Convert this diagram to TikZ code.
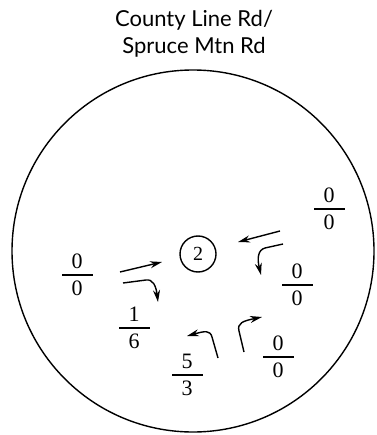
\documentclass[tikz,border=0pt]{standalone}
\usepackage{fontspec}
\setmainfont{Liberation Serif}
\newfontfamily\titlefont{Lato}
\usetikzlibrary{arrows.meta}

\tikzset{
  flowbar/.style={fill=black,draw=none,minimum width=31pt,minimum height=1.3pt,inner sep=0pt},
  every label/.style={inner sep=1pt,font=\fontsize{22}{22}\selectfont},
  movearrow/.style={->,line width=1.4pt},
}

\begin{document}
\begin{tikzpicture}[x=1pt,y=-1pt,line width=1.4pt,>={Stealth[length=12pt,width=7pt]},label distance=3pt]
\useasboundingbox (0,0) rectangle (376,435);
% ---- title and intersection circle ----
\node[align=center,font=\titlefont\fontsize{22}{27}\selectfont] (title) at (194,34)
  {County Line Rd/\\Spruce Mtn Rd};
\draw (193,251) circle (181);
\node[draw,circle,minimum size=36pt,inner sep=0pt,font=\fontsize{20}{20}\selectfont] (site) at (198,254) {2};
% ---- turning volumes ----
\node[flowbar,label={above:0},label={below:0}] (eastthru) at (329,209) {};
\node[flowbar,label={above:0},label={below:0}] (westthru) at (77,275) {};
\node[flowbar,label={above:1},label={below:6}] (westright) at (134,328) {};
\node[flowbar,label={above:0},label={below:0}] (eastleft) at (297,285) {};
\node[flowbar,label={above:5},label={below:3}] (southleft) at (187,375) {};
\node[flowbar,label={above:0},label={below:0}] (southright) at (278,357) {};
% ---- movement arrows ----
\draw[movearrow] (120,272) -- (162,262);
\draw[movearrow] (123,283) -- (146,280) .. controls (153,279) and (156,286) .. (158,302);
\draw[movearrow] (280,231) -- (238,242);
\draw[movearrow] (283,244) -- (265,248) .. controls (258,250) and (257,258) .. (261,275);
\draw[movearrow] (218,358) -- (212,337) .. controls (210,330) and (205,331) .. (187,336);
\draw[movearrow] (244,352) -- (239,331) .. controls (237,323) and (243,321) .. (262,317);
\end{tikzpicture}
\end{document}
